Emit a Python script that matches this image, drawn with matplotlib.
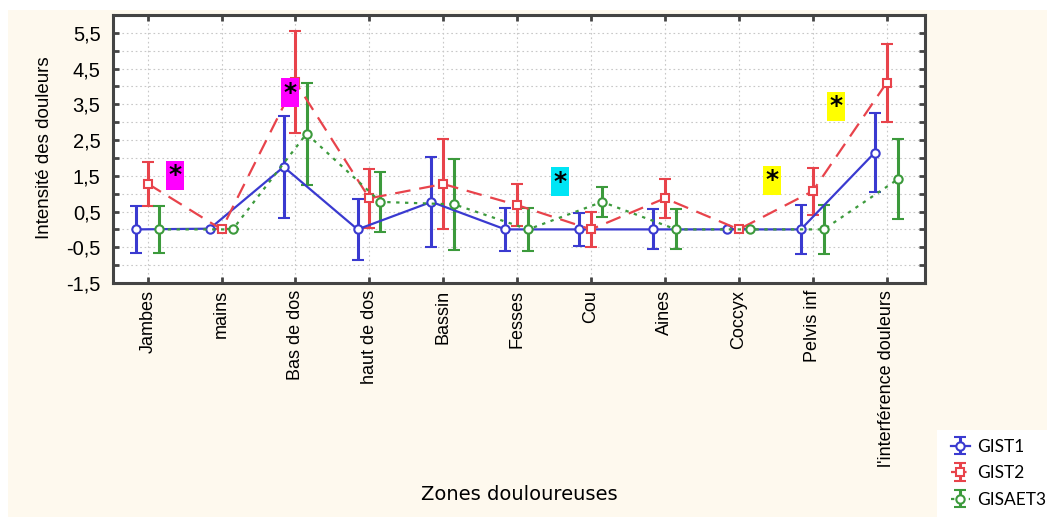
import numpy as np
import matplotlib
matplotlib.use("Agg")
import matplotlib.pyplot as plt
from matplotlib.patches import Rectangle

categories = ["Jambes", "mains", "Bas de dos", "haut de dos", "Bassin", "Fesses",
              "Cou", "Aines", "Coccyx", "Pelvis inf", "l'interférence douleurs"]
gist1_mean = [0.0, 0.02, 1.75, 0.0, 0.77, 0.0, 0.0, 0.0, 0.0, 0.0, 2.15]
gist1_err  = [0.65, 0.0, 1.43, 0.85, 1.27, 0.6, 0.47, 0.56, 0.0, 0.68, 1.1]
gist2_mean = [1.28, 0.0, 4.12, 0.87, 1.27, 0.68, 0.0, 0.87, 0.0, 1.07, 4.1]
gist2_err  = [0.62, 0.0, 1.43, 0.82, 1.27, 0.58, 0.48, 0.55, 0.0, 0.66, 1.1]
gisaet3_mean = [0.0, 0.0, 2.68, 0.77, 0.7, 0.0, 0.77, 0.0, 0.0, 0.0, 1.4]
gisaet3_err  = [0.66, 0.0, 1.43, 0.85, 1.27, 0.6, 0.42, 0.56, 0.0, 0.68, 1.12]
series_names = ["GIST1", "GIST2", "GISAET3"]
yticks = [-1.5, -0.5, 0.5, 1.5, 2.5, 3.5, 4.5, 5.5]
ytick_labels = ["-1,5", "-0,5", "0,5", "1,5", "2,5", "3,5", "4,5", "5,5"]
# significance stars: (x position in category units, y value, box colour)
star_x = [0.37, 1.92, 5.58, 8.45, 9.32]
star_y = [1.52, 3.82, 1.33, 1.38, 3.45]
star_colors = ["#FF00FF", "#FF00FF", "#00E5F5", "#FFFF00", "#FFFF00"]

cream = "#FEF9EE"
fig = plt.figure(figsize=(10.47, 5.17), dpi=100)
fig.patch.set_facecolor("white")
fig.patches.append(Rectangle((8/1047, 0.0), 1.0, 1 - 10/517, transform=fig.transFigure,
                             facecolor=cream, edgecolor="none", zorder=-10))
fig.patches.append(Rectangle((937/1047, 0.0), 1.0, 1 - 430/517, transform=fig.transFigure,
                             facecolor="white", edgecolor="none", zorder=-9))

ax = fig.add_axes([113/1047, 1 - 283/517, (925-113)/1047, (283-15)/517])
ax.set_facecolor("white")

x = np.arange(len(categories))
styles = [
    dict(color="#3A3AD0", ls="-", marker="o", off=-0.16),
    dict(color="#E8434B", ls=(0, (7, 4)), marker="s", off=0.0),
    dict(color="#3C9A3C", ls=(0, (1.5, 2.5)), marker="o", off=0.15),
]
means = [gist1_mean, gist2_mean, gisaet3_mean]
errs = [gist1_err, gist2_err, gisaet3_err]
handles = []
for m, e, st, name in zip(means, errs, styles, series_names):
    eb = ax.errorbar(x + st["off"], m, yerr=e, color=st["color"], ls=st["ls"], lw=1.6,
                     marker=st["marker"], markersize=6, markerfacecolor="white",
                     markeredgecolor=st["color"], markeredgewidth=1.5,
                     ecolor=st["color"], elinewidth=2.2, capsize=4, capthick=2.0,
                     label=name, zorder=3)
    handles.append(eb)

ax.set_xlim(-0.47, 10.52)
ax.set_ylim(-1.5, 6.0)
ax.set_xticks(x)
ax.set_xticklabels(categories, rotation=90, fontsize=13, family="Liberation Sans")
ax.set_yticks(yticks)
ax.set_yticklabels(ytick_labels, fontsize=14.5, family="Liberation Sans")
ax.set_yticks(np.arange(-1.5, 6.0, 0.5), minor=True)
ax.tick_params(axis="y", which="both", direction="in", length=4, width=2, color="#444444",
               pad=9, right=True)
ax.tick_params(axis="x", which="both", direction="in", length=4, width=2, color="#444444",
               top=True, pad=5)
ax.grid(True, which="both", axis="y", ls=(0, (1.5, 2.5)), lw=0.8, color="#C8C8C8")
ax.grid(True, which="major", axis="x", ls=(0, (1.5, 2.5)), lw=0.8, color="#C8C8C8")
ax.set_axisbelow(True)
for sp in ax.spines.values():
    sp.set_linewidth(2.2)
    sp.set_color("#444444")

fig.text(45/1047, 1 - 148/517, "Intensité des douleurs", rotation=90, fontsize=13.5,
         family="Liberation Sans", ha="center", va="center")
fig.text(519/1047, 1 - 495/517, "Zones douloureuses", fontsize=14,
         family="Liberation Sans Narrow", ha="center", va="center")

for sx, sy, sc in zip(star_x, star_y, star_colors):
    ax.text(sx, sy, "*", fontsize=18, fontweight="bold", ha="center", va="center",
            color="black", zorder=5,
            bbox=dict(boxstyle="square,pad=0.1", facecolor=sc, edgecolor="none"))

leg = fig.legend(handles=handles, labels=series_names, loc="lower left",
                 bbox_to_anchor=(935/1047, -0.012), frameon=False,
                 prop={"family": "Lato", "size": 12.5}, handlelength=1.1,
                 handletextpad=0.4, labelspacing=0.6)

fig.savefig("out.png", dpi=100, facecolor=fig.get_facecolor())
